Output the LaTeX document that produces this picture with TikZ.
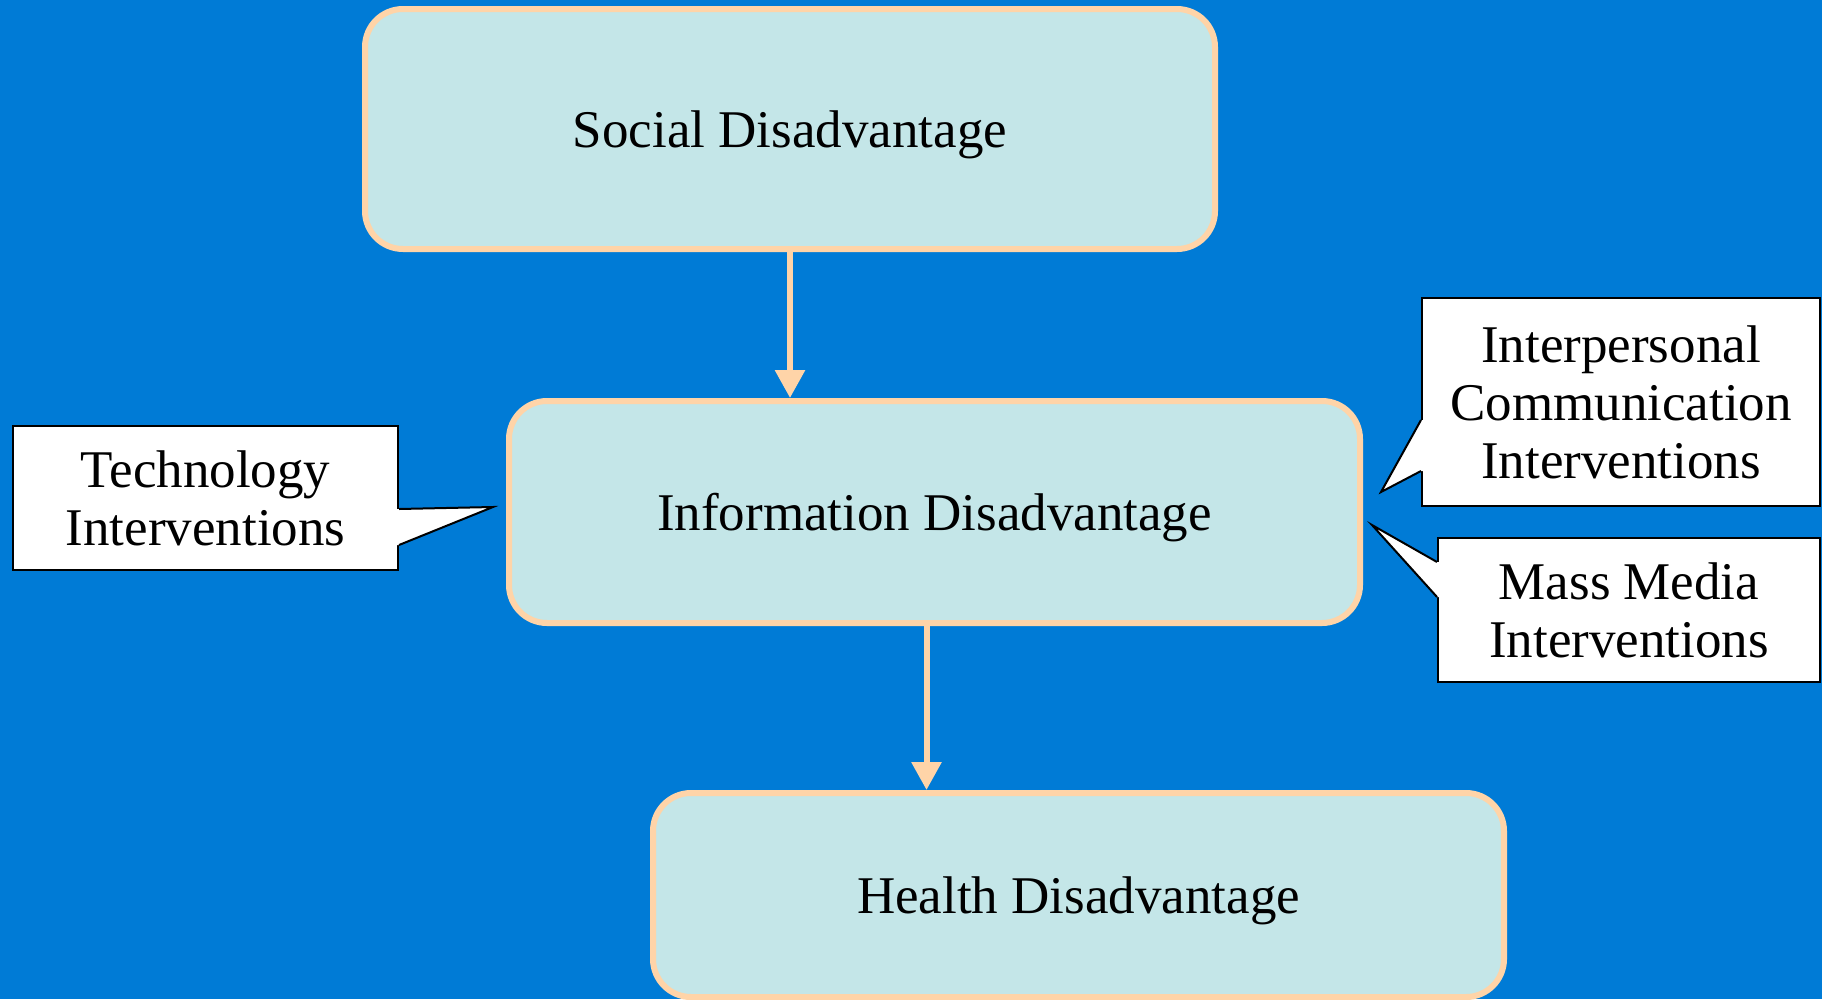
\documentclass[tikz,border=0pt]{standalone}
\usepackage{fontspec}
\setmainfont{Liberation Serif}
\usetikzlibrary{arrows.meta,calc}
\definecolor{bgblue}{RGB}{0,123,214}
\definecolor{boxfill}{RGB}{196,230,232}
\definecolor{peach}{RGB}{255,212,168}
\tikzset{
  mainbox/.style={draw=peach, line width=6pt, fill=boxfill, rounded corners=38pt,
    inner sep=0pt, align=center, text depth=0pt, font=\fontsize{53}{58}\selectfont},
  callbox/.style={draw=black, line width=2pt, fill=white, inner sep=0pt,
    align=center, font=\fontsize{53}{58}\selectfont},
  flowarrow/.style={draw=peach, line width=6pt, -{Triangle[length=28pt,width=29pt]}},
  pointer/.style={draw=black, line width=2pt, line join=miter}
}
\begin{document}
\begin{tikzpicture}[x=1pt,y=-1pt]
\fill[bgblue] (0,0) rectangle (1822,999);
\useasboundingbox (0,0) rectangle (1822,999);

\node[mainbox, minimum width=850pt, minimum height=240pt] (social) at (790,129) {Social Disadvantage};
\node[mainbox, minimum width=851pt, minimum height=222pt] (info) at (934.5,512) {Information Disadvantage};
\node[mainbox, minimum width=851pt, minimum height=204pt] (health) at (1078.5,895) {Health Disadvantage};

\draw[flowarrow] (social.south) -- (social.south |- info.north);
\draw[flowarrow] ($(info.south)+(-8,0)$) coordinate (a2s) -- (a2s |- health.north);

% Technology callout
\node[callbox, minimum width=385pt, minimum height=144pt] (tech) at (205.5,498) {Technology\\Interventions};
\coordinate (techtip) at (493,507);
\coordinate (techa) at (tech.east |- 0,509);
\coordinate (techb) at (tech.east |- 0,545);
\fill[white] ($(techa)+(-3,0)$) -- (techa) -- (techtip) -- (techb) -- ($(techb)+(-3,0)$) -- cycle;
\draw[pointer] (techa) -- (techtip) -- (techb);

% Interpersonal callout
\node[callbox, minimum width=398pt, minimum height=208pt] (inter) at (1621,402) {Interpersonal\\Communication\\Interventions};
\coordinate (intertip) at (1381,492);
\coordinate (intera) at (inter.west |- 0,420);
\coordinate (interb) at (inter.west |- 0,471);
\fill[white] ($(intera)+(3,0)$) -- (intera) -- (intertip) -- (interb) -- ($(interb)+(3,0)$) -- cycle;
\draw[pointer] (intera) -- (intertip) -- (interb);

% Mass media callout
\node[callbox, minimum width=382pt, minimum height=144pt] (mass) at (1629,610) {Mass Media\\Interventions};
\coordinate (masstip) at (1372,525);
\coordinate (massa) at (mass.west |- 0,562);
\coordinate (massb) at (mass.west |- 0,597);
\fill[white] ($(massa)+(3,0)$) -- (massa) -- (masstip) -- (massb) -- ($(massb)+(3,0)$) -- cycle;
\draw[pointer] (massa) -- (masstip) -- (massb);
\end{tikzpicture}
\end{document}
